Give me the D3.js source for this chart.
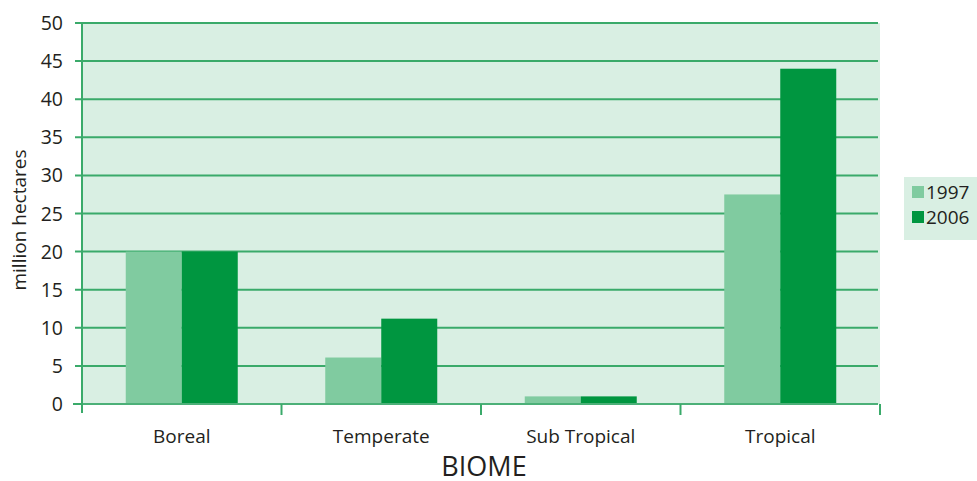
<html>
<head>
<style>
  body { margin: 0; background: #fff; }
  text { font-family: "Open Sans", "Noto Sans", sans-serif; fill: #231f20; }
</style>
</head>
<body>
<svg width="977" height="481"></svg>
<script src="https://d3js.org/d3.v7.min.js"></script>
<script>
var biomes = ["Boreal", "Temperate", "Sub Tropical", "Tropical"];
var years = ["1997", "2006"];
var values1997 = [20, 6.1, 1.0, 27.5];
var values2006 = [20, 11.2, 1.0, 44];
var yTicks = [0, 5, 10, 15, 20, 25, 30, 35, 40, 45, 50];

var colors = { "1997": "#80cba0", "2006": "#009640" };
var gridColor = "#3aaa6a";

var plotLeft = 82, plotRight = 880, plotTop = 23, plotBottom = 404;

var svg = d3.select("svg");

var x = d3.scaleBand().domain(biomes).range([plotLeft, plotRight]);
var xs = d3.scaleBand().domain(years).range([0, 112]);
var y = d3.scaleLinear().domain([0, 50]).range([plotBottom, plotTop]);

// plot background
svg.append("rect")
  .attr("x", plotLeft).attr("y", plotTop)
  .attr("width", plotRight - plotLeft).attr("height", plotBottom - plotTop)
  .attr("fill", "#d9efe3");

// gridlines + left ticks
svg.append("g").selectAll("line").data(yTicks).enter().append("line")
  .attr("x1", function(d){ return d == 0 ? 73 : 75; })
  .attr("x2", plotRight - 2)
  .attr("y1", function(d){ return y(d); })
  .attr("y2", function(d){ return y(d); })
  .attr("stroke", gridColor).attr("stroke-width", 2);

svg.append("g").selectAll("text").data(yTicks).enter().append("text")
  .attr("x", 63)
  .attr("y", function(d){ return y(d) + 7; })
  .attr("text-anchor", "end")
  .attr("font-size", 19.5)
  .text(function(d){ return d; });

// bars
var rows = biomes.map(function(b, i){
  return { biome: b, vals: [ { year: "1997", v: values1997[i] }, { year: "2006", v: values2006[i] } ] };
});

var groups = svg.append("g").selectAll("g").data(rows).enter().append("g")
  .attr("transform", function(d){ return "translate(" + (x(d.biome) + x.bandwidth() / 2 - 56) + ",0)"; });

groups.selectAll("rect").data(function(d){ return d.vals; }).enter().append("rect")
  .attr("x", function(d){ return xs(d.year); })
  .attr("width", xs.bandwidth())
  .attr("y", function(d){ return y(d.v); })
  .attr("height", function(d){ return plotBottom - y(d.v); })
  .attr("fill", function(d){ return colors[d.year]; });

// x axis line
svg.append("line")
  .attr("x1", plotLeft).attr("x2", plotRight - 2)
  .attr("y1", plotBottom).attr("y2", plotBottom)
  .attr("stroke", "#4cb078").attr("stroke-width", 2);

// left axis line
svg.append("line")
  .attr("x1", plotLeft).attr("x2", plotLeft)
  .attr("y1", plotTop).attr("y2", plotBottom + 9)
  .attr("stroke", gridColor).attr("stroke-width", 2);

// x ticks at band boundaries
var bounds = biomes.map(function(b){ return x(b); }).concat([plotRight]);
svg.append("g").selectAll("line").data(bounds.slice(1)).enter().append("line")
  .attr("x1", function(d){ return d; }).attr("x2", function(d){ return d; })
  .attr("y1", plotBottom).attr("y2", plotBottom + 11)
  .attr("stroke", gridColor).attr("stroke-width", 2);

// category labels
svg.append("g").selectAll("text").data(biomes).enter().append("text")
  .attr("x", function(d){ return x(d) + x.bandwidth() / 2; })
  .attr("y", 443)
  .attr("text-anchor", "middle")
  .attr("font-size", 19)
  .text(function(d){ return d; });

svg.append("text")
  .attr("x", 484).attr("y", 476)
  .attr("text-anchor", "middle")
  .attr("font-size", 27)
  .text("BIOME");

svg.append("text")
  .attr("transform", "translate(26,220) rotate(-90)")
  .attr("text-anchor", "middle")
  .attr("font-size", 19)
  .text("million hectares");

// legend
var legend = svg.append("g");
legend.append("rect")
  .attr("x", 904).attr("y", 177).attr("width", 73).attr("height", 63)
  .attr("fill", "#d9efe3");
years.forEach(function(yr, i){
  legend.append("rect")
    .attr("x", 912).attr("y", 186 + i * 25)
    .attr("width", 12).attr("height", 12)
    .attr("fill", colors[yr]);
  legend.append("text")
    .attr("x", 926).attr("y", 199 + i * 25)
    .attr("font-size", 19)
    .text(yr);
});
</script>
</body>
</html>
